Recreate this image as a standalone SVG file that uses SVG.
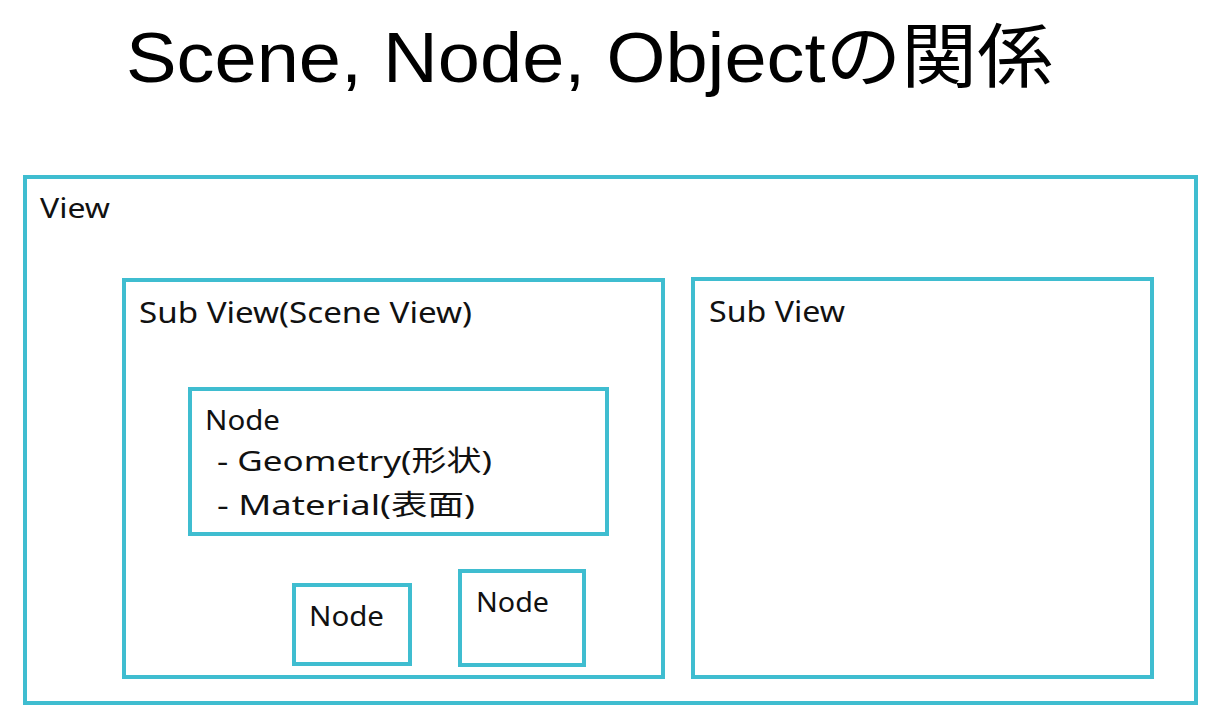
<svg xmlns="http://www.w3.org/2000/svg" width="1221" height="722" viewBox="0 0 1221 722">
<style>
.box{fill:none;stroke:#3fbdd0;stroke-width:4}
.t{font-family:"Noto Sans","Noto Sans CJK JP",sans-serif;fill:#111}
.title{font-family:"Liberation Sans","Noto Sans CJK JP",sans-serif;fill:#000;font-size:70px}
</style>
<rect width="1221" height="722" fill="#fff"/>
<text class="title" x="126" y="82" textLength="927" lengthAdjust="spacingAndGlyphs">Scene, Node, Objectの関係</text>
<g id="view">
<rect class="box" x="25" y="177" width="1171" height="526"/>
<text class="t" x="40" y="218" font-size="28" textLength="70" lengthAdjust="spacingAndGlyphs">View</text>
</g>
<g id="subview-scene">
<rect class="box" x="124" y="280" width="539" height="397"/>
<text class="t" x="139" y="323" font-size="29" textLength="333" lengthAdjust="spacingAndGlyphs">Sub View(Scene View)</text>
</g>
<g id="subview">
<rect class="box" x="693" y="279" width="459" height="398"/>
<text class="t" x="709" y="322" font-size="29" textLength="136" lengthAdjust="spacingAndGlyphs">Sub View</text>
</g>
<g id="node-main">
<rect class="box" x="190" y="389" width="417" height="145"/>
<text class="t" x="205" y="430" font-size="28" textLength="75" lengthAdjust="spacingAndGlyphs">Node</text>
<text class="t" x="217" y="471" font-size="28" textLength="275" lengthAdjust="spacingAndGlyphs">- Geometry(形状)</text>
<text class="t" x="217" y="515" font-size="28" textLength="258" lengthAdjust="spacingAndGlyphs">- Material(表面)</text>
</g>
<g id="node-a">
<rect class="box" x="294" y="585" width="116" height="79"/>
<text class="t" x="309" y="626" font-size="28" textLength="75" lengthAdjust="spacingAndGlyphs">Node</text>
</g>
<g id="node-b">
<rect class="box" x="460" y="571" width="124" height="94"/>
<text class="t" x="476" y="612" font-size="28" textLength="73" lengthAdjust="spacingAndGlyphs">Node</text>
</g>
<g id="connectors"></g>
</svg>
